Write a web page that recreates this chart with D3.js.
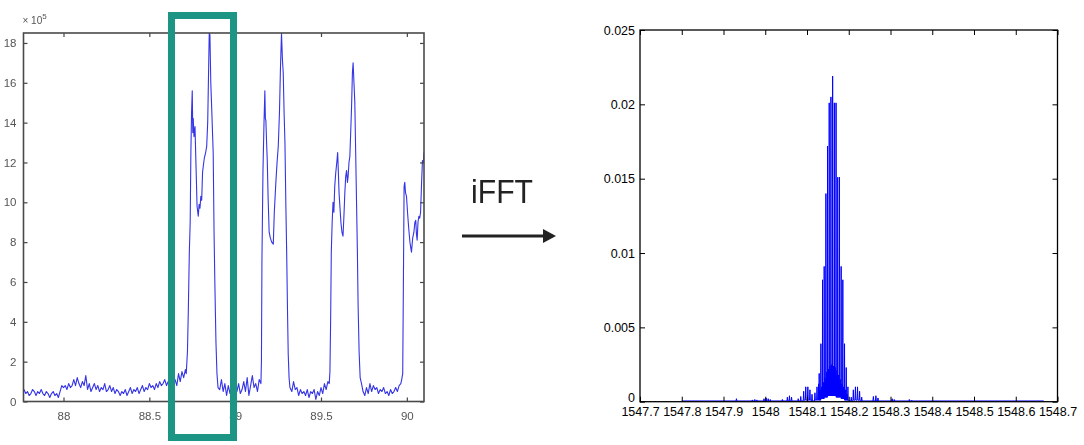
<!DOCTYPE html>
<html>
<head>
<meta charset="utf-8">
<script src="https://cdn.jsdelivr.net/npm/d3@7"></script>
<style>
  html, body { margin: 0; padding: 0; background: #fff; }
  svg { display: block; }
</style>
</head>
<body>
<svg id="fig" width="1084" height="445"></svg>
<script>
// ---- Time-domain trace (left panel), values in units of 1e5 ----
const scanX = [
  87.77, 87.78, 87.79, 87.80, 87.81, 87.82, 87.83, 87.84, 87.85, 87.86, 87.87, 87.88, 87.89, 87.90,
  87.91, 87.92, 87.93, 87.94, 87.95, 87.96, 87.97, 87.98, 87.99, 88.00, 88.01, 88.02, 88.03, 88.04,
  88.05, 88.06, 88.07, 88.08, 88.09, 88.10, 88.11, 88.12, 88.13, 88.14, 88.15, 88.16, 88.17, 88.18,
  88.19, 88.20, 88.21, 88.22, 88.23, 88.24, 88.25, 88.26, 88.27, 88.28, 88.29, 88.30, 88.31, 88.32,
  88.33, 88.34, 88.35, 88.36, 88.37, 88.38, 88.39, 88.40, 88.41, 88.42, 88.43, 88.44, 88.45, 88.46,
  88.47, 88.48, 88.49, 88.50, 88.51, 88.52, 88.53, 88.54, 88.55, 88.56, 88.57, 88.58, 88.59, 88.60,
  88.61, 88.62, 88.63, 88.64, 88.65, 88.66, 88.67, 88.68, 88.69, 88.70, 88.71,
  88.715, 88.722, 88.727, 88.733, 88.738, 88.742, 88.746, 88.750, 88.753, 88.756, 88.760, 88.766,
  88.772, 88.778, 88.785, 88.790, 88.795, 88.800, 88.805, 88.810, 88.814, 88.820, 88.828, 88.834,
  88.840, 88.845, 88.849, 88.853, 88.858, 88.863, 88.868, 88.872, 88.877, 88.882, 88.888, 88.894,
  88.900, 88.91, 88.92, 88.93, 88.94, 88.95, 88.96, 88.97, 88.98, 88.99, 89.00, 89.01, 89.02, 89.03,
  89.04, 89.05, 89.06, 89.07, 89.08, 89.09, 89.10, 89.11, 89.12, 89.13, 89.14,
  89.150, 89.153, 89.156, 89.162, 89.168, 89.173, 89.176, 89.179, 89.183, 89.187, 89.192, 89.198,
  89.205, 89.213, 89.222, 89.228, 89.237, 89.244, 89.251, 89.258, 89.264, 89.270, 89.275, 89.280,
  89.285, 89.290, 89.295, 89.300, 89.305, 89.309, 89.314, 89.319,
  89.33, 89.34, 89.35, 89.36, 89.37, 89.38, 89.39, 89.40, 89.41, 89.42, 89.43, 89.44, 89.45, 89.46,
  89.47, 89.48, 89.49, 89.50, 89.51, 89.52, 89.53, 89.54,
  89.548, 89.552, 89.556, 89.560, 89.565, 89.570, 89.575, 89.580, 89.586, 89.592, 89.597, 89.600,
  89.605, 89.610, 89.616, 89.622, 89.628, 89.633, 89.639, 89.644, 89.649, 89.654, 89.658, 89.663,
  89.668, 89.673, 89.678, 89.683, 89.687, 89.692, 89.697, 89.702, 89.707, 89.712, 89.716, 89.722,
  89.728, 89.736,
  89.745, 89.755, 89.765, 89.775, 89.785, 89.795, 89.805, 89.815, 89.825, 89.835, 89.845, 89.855,
  89.865, 89.875, 89.885, 89.895, 89.905, 89.915, 89.925, 89.935, 89.945, 89.955, 89.965, 89.970,
  89.976, 89.980, 89.984, 89.988, 89.992, 89.998, 90.004, 90.010, 90.018, 90.027, 90.034, 90.041,
  90.047, 90.052, 90.056, 90.060, 90.065, 90.070, 90.075, 90.080, 90.086, 90.091, 90.096, 90.100
];
const scanY = [
  0.6, 0.4, 0.5, 0.3, 0.4, 0.6, 0.5, 0.3, 0.5, 0.4, 0.6, 0.4, 0.3, 0.5,
  0.4, 0.2, 0.4, 0.5, 0.3, 0.4, 0.2, 0.5, 0.8, 0.7, 0.8, 0.6, 0.9, 0.7,
  0.8, 1.1, 0.8, 1.2, 0.9, 0.7, 1.0, 0.8, 1.3, 0.6, 0.9, 0.5, 0.7, 0.9,
  0.6, 0.8, 0.5, 0.7, 0.6, 0.9, 0.5, 0.6, 0.8, 0.5, 0.7, 0.4, 0.6, 0.5,
  0.3, 0.5, 0.4, 0.6, 0.3, 0.5, 0.7, 0.4, 0.6, 0.5, 0.7, 0.4, 0.6, 0.8,
  0.5, 0.7, 0.6, 0.9, 0.7, 0.8, 0.6, 0.9, 0.7, 1.0, 0.8, 0.9, 1.1, 0.8,
  1.0, 0.7, 1.2, 0.9, 1.1, 0.8, 1.4, 1.0, 1.5, 1.2, 1.6,
  1.4, 2.5, 4.5, 7.5, 9.0, 12.5, 14.5, 15.6, 13.5, 14.2, 13.3, 13.8,
  11.8, 9.8, 9.3, 9.9, 9.7, 10.3, 10.1, 11.5, 11.8, 12.2, 12.5, 12.8,
  14.0, 16.5, 18.5, 18.4, 16.0, 14.8, 13.5, 12.5, 8.5, 5.8, 3.0, 1.4,
  0.7, 0.6, 1.1, 0.5, 0.9, 0.3, 0.8, 0.4, 1.0, 0.2, 0.7, 0.5, 0.9, 0.4,
  0.6, 1.0, 0.5, 1.2, 0.3, 0.8, 1.3, 0.7, 0.9, 0.5, 1.1,
  0.9, 2.0, 7.1, 11.6, 14.0, 15.6, 14.2, 14.1, 13.0, 12.1, 10.2, 8.5,
  8.2, 8.0, 7.9, 9.5, 11.0, 12.0, 12.8, 14.5, 16.8, 18.5, 17.2, 16.5,
  14.5, 13.0, 10.0, 7.5, 4.5, 2.4, 1.2, 0.7,
  0.5, 1.0, 0.6, 0.7, 0.3, 0.6, 0.4, 0.5, 0.3, 0.6, 0.2, 0.5, 0.4, 0.6,
  0.1, 0.5, 0.3, 0.7, 0.4, 0.9, 0.6, 1.0,
  0.9, 1.5, 4.0, 7.5, 9.0, 10.0, 9.5, 10.8, 11.5, 12.0, 12.5, 11.8,
  10.5, 9.8, 9.0, 8.5, 8.3, 9.2, 10.5, 11.3, 11.6, 11.0, 11.3, 12.0,
  12.3, 13.5, 14.8, 16.5, 17.0, 16.0, 15.0, 12.5, 10.0, 7.5, 4.9, 2.5,
  1.2, 0.9,
  0.5, 0.3, 0.7, 0.4, 0.9, 0.5, 0.8, 0.6, 0.7, 0.4, 0.6, 0.5,
  0.7, 0.4, 0.5, 0.3, 0.6, 0.4, 0.5, 0.7, 0.5, 0.8, 0.9, 1.1,
  1.4, 6.0, 10.8, 11.0, 10.5, 10.3, 9.5, 8.8, 8.0, 7.5, 8.2, 8.5,
  9.0, 9.1, 8.4, 8.1, 9.0, 9.3, 9.2, 9.5, 11.0, 12.1, 12.0, 12.5
];
const scanXTicks = [88, 88.5, 89, 89.5, 90];
const scanYTicks = [0, 2, 4, 6, 8, 10, 12, 14, 16, 18];

// ---- Inverse-FFT spectrum (right panel) ----
const ifftWl = [
  1547.8000,
  1547.9300, 1547.9310, 1547.9320,
  1547.9680, 1547.9690, 1547.9700, 1547.9740, 1547.9750, 1547.9760, 1547.9790, 1547.9800, 1547.9810,
  1547.9960, 1547.9970, 1547.9980, 1548.0010, 1548.0020, 1548.0030, 1548.0060, 1548.0070, 1548.0080,
  1548.0110, 1548.0120, 1548.0130,
  1548.0400, 1548.0410, 1548.0420, 1548.0520, 1548.0530, 1548.0540, 1548.0570, 1548.0580, 1548.0590,
  1548.0620, 1548.0630, 1548.0640,
  1548.0780, 1548.0790, 1548.0800, 1548.0840, 1548.0850, 1548.0860, 1548.0910, 1548.0920, 1548.0930,
  1548.0960, 1548.0970, 1548.0980, 1548.1010, 1548.1020, 1548.1030, 1548.1060, 1548.1070, 1548.1080,
  1548.1110, 1548.1120, 1548.1130,
  1548.1180, 1548.1190, 1548.1200, 1548.1230, 1548.1240, 1548.1250, 1548.1270, 1548.1280, 1548.1287,
  1548.1292, 1548.1297, 1548.1302, 1548.1307, 1548.1312, 1548.1317, 1548.1322, 1548.1327,
  1548.1333, 1548.1338, 1548.1343, 1548.1348, 1548.1353, 1548.1358, 1548.1363, 1548.1368,
  1548.1372, 1548.1377, 1548.1382, 1548.1387, 1548.1392, 1548.1397, 1548.1402, 1548.1407,
  1548.1412, 1548.1417, 1548.1422, 1548.1427, 1548.1432, 1548.1437, 1548.1442, 1548.1447,
  1548.1453, 1548.1458, 1548.1463, 1548.1468, 1548.1473, 1548.1478, 1548.1483, 1548.1488,
  1548.1492, 1548.1497, 1548.1502, 1548.1507, 1548.1512, 1548.1517, 1548.1522, 1548.1527,
  1548.1532, 1548.1537, 1548.1542, 1548.1547, 1548.1552, 1548.1557, 1548.1562, 1548.1567,
  1548.1573, 1548.1578, 1548.1583, 1548.1588, 1548.1593, 1548.1598, 1548.1603, 1548.1608,
  1548.1614, 1548.1619, 1548.1624, 1548.1629, 1548.1634, 1548.1639, 1548.1644, 1548.1649,
  1548.1655, 1548.1660, 1548.1665, 1548.1670, 1548.1675, 1548.1680, 1548.1685, 1548.1690,
  1548.1696, 1548.1701, 1548.1706, 1548.1711, 1548.1716, 1548.1721, 1548.1726, 1548.1731,
  1548.1736, 1548.1741, 1548.1746, 1548.1751, 1548.1756, 1548.1761, 1548.1766, 1548.1771,
  1548.1777, 1548.1782, 1548.1787, 1548.1792, 1548.1797, 1548.1802, 1548.1807, 1548.1812,
  1548.1818, 1548.1823, 1548.1828, 1548.1833, 1548.1838, 1548.1843, 1548.1848, 1548.1853,
  1548.1858, 1548.1863, 1548.1868, 1548.1873, 1548.1878, 1548.1883, 1548.1888, 1548.1893,
  1548.1899, 1548.1904, 1548.1909, 1548.1914, 1548.1919, 1548.1924, 1548.1929, 1548.1934,
  1548.1940, 1548.1945, 1548.1950, 1548.1955, 1548.1960, 1548.1965, 1548.1970, 1548.1975,
  1548.1980, 1548.1985,
  1548.2050, 1548.2060, 1548.2070, 1548.2100, 1548.2110, 1548.2120, 1548.2150, 1548.2160, 1548.2170,
  1548.2200, 1548.2210, 1548.2220, 1548.2250, 1548.2260, 1548.2270, 1548.2300, 1548.2310, 1548.2320,
  1548.2580, 1548.2590, 1548.2600, 1548.2640, 1548.2650, 1548.2660, 1548.2690, 1548.2700, 1548.2710,
  1548.3030, 1548.3040, 1548.3050, 1548.3080, 1548.3090, 1548.3100,
  1548.3440, 1548.3450, 1548.3460, 1548.3500, 1548.3510, 1548.3520,
  1548.6670
];
const ifftAmp = [
  0.00005,
  0.00005, 0.00020, 0.00005,
  0.00005, 0.00012, 0.00005, 0.00005, 0.00015, 0.00005, 0.00005, 0.00012, 0.00005,
  0.00005, 0.00020, 0.00005, 0.00005, 0.00025, 0.00005, 0.00005, 0.00020, 0.00005,
  0.00005, 0.00015, 0.00005,
  0.00005, 0.00015, 0.00005, 0.00005, 0.00030, 0.00005, 0.00005, 0.00040, 0.00005,
  0.00005, 0.00030, 0.00005,
  0.00005, 0.00020, 0.00005, 0.00005, 0.00035, 0.00005, 0.00005, 0.00070, 0.00010,
  0.00010, 0.00100, 0.00010, 0.00010, 0.00100, 0.00010, 0.00010, 0.00080, 0.00010,
  0.00005, 0.00050, 0.00005,
  0.00005, 0.00060, 0.00010, 0.00010, 0.00100, 0.00010, 0.00010, 0.00120, 0.00010,
  0.0019, 0.0001, 0.0005, 0.0001, 0.0008, 0.0001, 0.0006, 0.0001,
  0.0039, 0.0002, 0.0007, 0.0002, 0.0010, 0.0002, 0.0008, 0.0002,
  0.0082, 0.0002, 0.0010, 0.0002, 0.0013, 0.0002, 0.0011, 0.0002,
  0.0091, 0.0003, 0.0012, 0.0003, 0.0016, 0.0003, 0.0013, 0.0003,
  0.0140, 0.0003, 0.0015, 0.0003, 0.0020, 0.0003, 0.0016, 0.0003,
  0.0172, 0.0004, 0.0018, 0.0004, 0.0022, 0.0004, 0.0019, 0.0004,
  0.0201, 0.0004, 0.0020, 0.0004, 0.0024, 0.0004, 0.0021, 0.0004,
  0.0205, 0.0004, 0.0022, 0.0004, 0.0025, 0.0004, 0.0021, 0.0004,
  0.0219, 0.0004, 0.0021, 0.0004, 0.0024, 0.0004, 0.0020, 0.0004,
  0.0201, 0.0004, 0.0019, 0.0004, 0.0023, 0.0004, 0.0018, 0.0004,
  0.0201, 0.0003, 0.0017, 0.0003, 0.0021, 0.0003, 0.0016, 0.0003,
  0.0151, 0.0003, 0.0014, 0.0003, 0.0018, 0.0003, 0.0013, 0.0003,
  0.0151, 0.0003, 0.0012, 0.0003, 0.0015, 0.0003, 0.0011, 0.0003,
  0.0091, 0.0002, 0.0010, 0.0002, 0.0012, 0.0002, 0.0009, 0.0002,
  0.0082, 0.0002, 0.0008, 0.0002, 0.0010, 0.0002, 0.0007, 0.0002,
  0.0039, 0.0001, 0.0006, 0.0001, 0.0008, 0.0001, 0.0005, 0.0001,
  0.0023, 0.0001, 0.0004, 0.0001, 0.0005, 0.0001, 0.0003, 0.0001,
  0.0010, 0.00005,
  0.00005, 0.00030, 0.00005, 0.00005, 0.00080, 0.00010, 0.00010, 0.00100, 0.00010,
  0.00010, 0.00100, 0.00010, 0.00010, 0.00070, 0.00005, 0.00005, 0.00030, 0.00005,
  0.00005, 0.00035, 0.00005, 0.00005, 0.00040, 0.00005, 0.00005, 0.00025, 0.00005,
  0.00005, 0.00020, 0.00005, 0.00005, 0.00015, 0.00005,
  0.00005, 0.00015, 0.00005, 0.00005, 0.00010, 0.00005,
  0.00005
];
const ifftXTicks = [1547.7, 1547.8, 1547.9, 1548.0, 1548.1, 1548.2, 1548.3, 1548.4, 1548.5, 1548.6, 1548.7];
const ifftYTicks = [0, 0.005, 0.01, 0.015, 0.02, 0.025];

const svg = d3.select("#fig");
const defs = svg.append("defs");
defs.append("filter").attr("id", "soft")
  .attr("x", "-5%").attr("y", "-5%").attr("width", "110%").attr("height", "110%")
  .append("feGaussianBlur").attr("stdDeviation", 0.6);
defs.append("filter").attr("id", "softer")
  .append("feGaussianBlur").attr("stdDeviation", 0.35);

// ---------- Left panel: time trace ----------
const L = { x0: 23.5, x1: 424, y0: 401.5, y1: 33 };
const lx = d3.scaleLinear().domain([87.767, 90.1]).range([L.x0, L.x1]);
const ly = d3.scaleLinear().domain([0, 18.5]).range([L.y0, L.y1]);

const left = svg.append("g").attr("filter", "url(#soft)");
left.append("defs").append("clipPath").attr("id", "clipL")
  .append("rect").attr("x", L.x0).attr("y", L.y1).attr("width", L.x1 - L.x0).attr("height", L.y0 - L.y1);

left.append("path")
  .datum(scanX.map((x, i) => [x, scanY[i]]))
  .attr("clip-path", "url(#clipL)")
  .attr("fill", "none")
  .attr("stroke", "#3434e6")
  .attr("stroke-width", 1.1)
  .attr("stroke-linejoin", "round")
  .attr("d", d3.line().x(d => lx(d[0])).y(d => ly(d[1])));

const lStyle = (g, labels) => {
  g.select(".domain").remove();
  g.selectAll(".tick line").attr("stroke", "#444").attr("stroke-width", 1.2);
  g.selectAll(".tick text")
    .attr("fill", labels ? "#555" : "none")
    .attr("font-family", "'Liberation Sans', Arial, sans-serif")
    .attr("font-size", 11.5);
};
left.append("g").attr("transform", `translate(0,${L.y0})`)
  .call(d3.axisBottom(lx).tickValues(scanXTicks).tickSize(-4).tickPadding(10).tickFormat(d3.format("")))
  .call(g => lStyle(g, true));
left.append("g").attr("transform", `translate(0,${L.y1})`)
  .call(d3.axisTop(lx).tickValues(scanXTicks).tickSize(-4).tickFormat(""))
  .call(g => lStyle(g, false));
left.append("g").attr("transform", `translate(${L.x0},0)`)
  .call(d3.axisLeft(ly).tickValues(scanYTicks).tickSize(-4).tickPadding(7).tickFormat(d3.format("")))
  .call(g => lStyle(g, true));
left.append("g").attr("transform", `translate(${L.x1},0)`)
  .call(d3.axisRight(ly).tickValues(scanYTicks).tickSize(-4).tickFormat(""))
  .call(g => lStyle(g, false));

left.append("rect")
  .attr("x", L.x0).attr("y", L.y1).attr("width", L.x1 - L.x0).attr("height", L.y0 - L.y1)
  .attr("fill", "none").attr("stroke", "#4a4a4a").attr("stroke-width", 1.6);

const expo = left.append("text")
  .attr("x", L.x0 - 1).attr("y", 24)
  .attr("font-family", "'Liberation Sans', Arial, sans-serif")
  .attr("font-size", 10).attr("fill", "#555");
expo.append("tspan").text("\u00d7 10");
expo.append("tspan").attr("dy", -5).attr("font-size", 8).text("5");

// highlighted window around the first pulse
left.append("rect")
  .attr("x", 171.5).attr("y", 15.5).attr("width", 62).attr("height", 422)
  .attr("fill", "none").attr("stroke", "#1e9585").attr("stroke-width", 7);

// ---------- Middle: transform label and arrow ----------
const mid = svg.append("g").attr("filter", "url(#softer)");
mid.append("text")
  .attr("x", 471).attr("y", 203)
  .attr("font-family", "'Liberation Sans', Arial, sans-serif")
  .attr("font-size", 34).attr("fill", "#222")
  .attr("textLength", 62).attr("lengthAdjust", "spacingAndGlyphs")
  .text("iFFT");
mid.append("line")
  .attr("x1", 462).attr("y1", 236).attr("x2", 546).attr("y2", 236)
  .attr("stroke", "#222").attr("stroke-width", 2.8);
mid.append("path")
  .attr("d", "M543,229 L556,236 L543,243 Z")
  .attr("fill", "#222");

// ---------- Right panel: spectrum ----------
const R = { x0: 640, x1: 1057.5, y0: 401.7, y1: 30 };
const rx = d3.scaleLinear().domain([1547.7, 1548.7]).range([R.x0, R.x1]);
const ry = d3.scaleLinear().domain([0, 0.025]).range([R.y0, R.y1]);

const right = svg.append("g");
right.append("path")
  .datum(ifftWl.map((x, i) => [x, ifftAmp[i]]))
  .attr("fill", "none")
  .attr("stroke", "#0000ff")
  .attr("stroke-width", 1)
  .attr("d", d3.line().x(d => rx(d[0])).y(d => ry(d[1])));

const fmtX = d => String(+d.toFixed(1));
const fmtY = d => (d === 0 ? "0" : String(+d.toFixed(3)));
const rStyle = (g, labels) => {
  g.select(".domain").remove();
  g.selectAll(".tick line").attr("stroke", "#000").attr("stroke-width", 1);
  g.selectAll(".tick text")
    .attr("fill", labels ? "#000" : "none")
    .attr("font-family", "'Liberation Sans', Arial, sans-serif")
    .attr("font-size", 12.5);
};
right.append("g").attr("transform", `translate(0,${R.y0})`)
  .call(d3.axisBottom(rx).tickValues(ifftXTicks).tickSize(-5).tickPadding(5).tickFormat(fmtX))
  .call(g => rStyle(g, true));
right.append("g").attr("transform", `translate(0,${R.y1})`)
  .call(d3.axisTop(rx).tickValues(ifftXTicks).tickSize(-5).tickFormat(""))
  .call(g => rStyle(g, false));
right.append("g").attr("transform", `translate(${R.x0},0)`)
  .call(d3.axisLeft(ry).tickValues(ifftYTicks).tickSize(-5).tickPadding(5).tickFormat(fmtY))
  .call(g => rStyle(g, true))
  // the zero label sits just above the corner so it clears the first x label
  .call(g => g.selectAll(".tick text").filter(d => d === 0).attr("dy", "-0.05em"));
right.append("g").attr("transform", `translate(${R.x1},0)`)
  .call(d3.axisRight(ry).tickValues(ifftYTicks).tickSize(-5).tickFormat(""))
  .call(g => rStyle(g, false));

right.append("rect")
  .attr("x", R.x0).attr("y", R.y1).attr("width", R.x1 - R.x0).attr("height", R.y0 - R.y1)
  .attr("fill", "none").attr("stroke", "#000").attr("stroke-width", 1.3);
</script>
</body>
</html>
